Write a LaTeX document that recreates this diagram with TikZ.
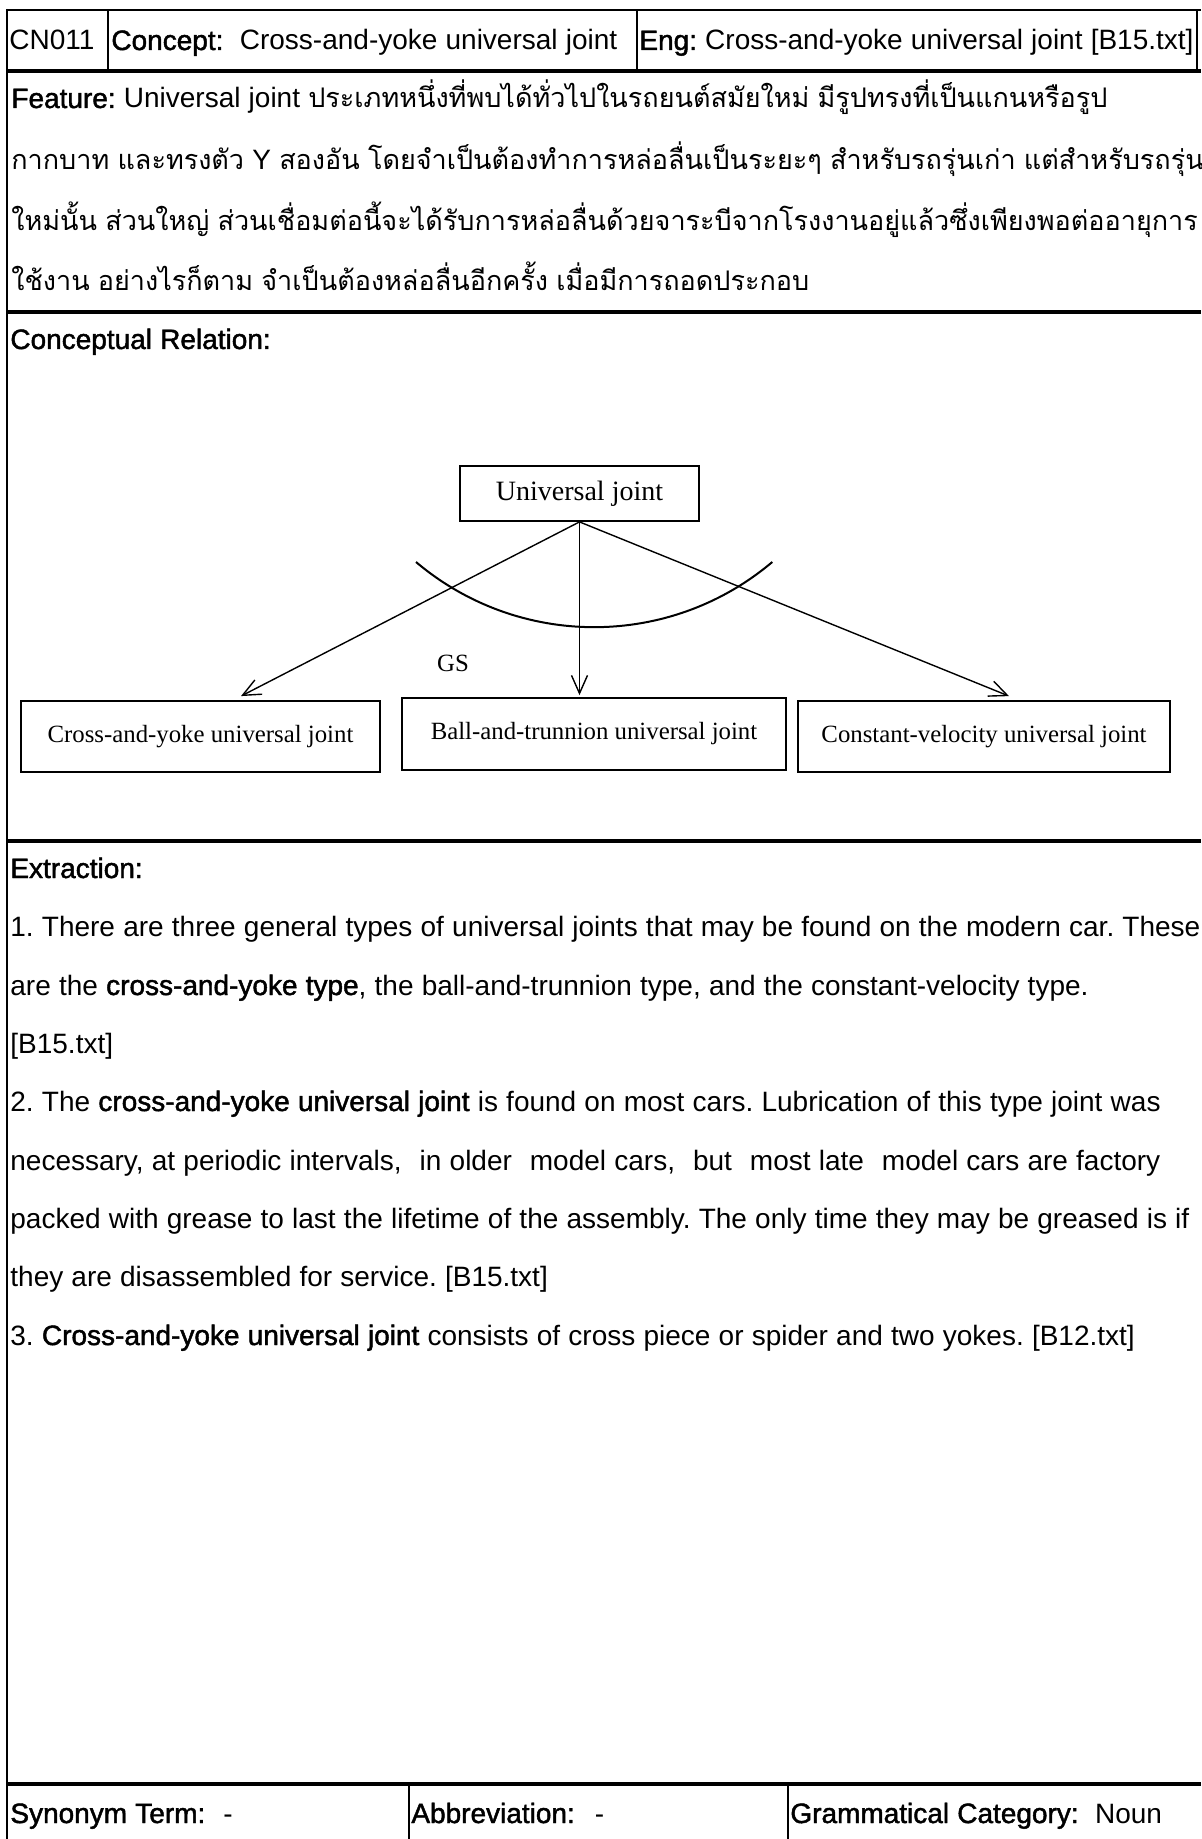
\documentclass[tikz,border=0pt]{standalone}
\usepackage{fontspec}
\setmainfont{Liberation Sans}
\newfontfamily\lblfont[FakeBold=1.6]{Liberation Sans}
\newfontfamily\thai[Script=Thai]{Loma}
\newfontfamily\serifjoint{Liberation Serif}
\usetikzlibrary{arrows.meta,calc}
\newcommand\lbl[1]{{\lblfont #1}}
\newcommand\thaitext[1]{{\thai\fontsize{13.5}{16}\selectfont #1}}
\newcommand\wide{\hspace{9pt}}
\newcommand\bodyfont{\fontsize{14}{16}\selectfont\spaceskip=4.1pt\relax}

\begin{document}
\frenchspacing
\begin{tikzpicture}[x=0.5pt,y=-0.5pt,
  txt/.style={anchor=base west,inner sep=0pt,font=\bodyfont},
  sectionrule/.style={line width=1.8pt},
  cellrule/.style={line width=1.3pt},
  conceptbox/.style={draw,line width=0.9pt,inner sep=0pt,
    font=\serifjoint\fontsize{12.4}{14}\selectfont},
  link/.style={line width=0.7pt,-{Straight Barb[length=9pt,width=8pt]}}]

% page
\fill[white] (0,0) rectangle (1201,1839);
\useasboundingbox (0,0) rectangle (1201,1839);

% table rules
\draw[cellrule] (7,10) -- (1201,10);
\draw[sectionrule] (7,71) -- (1201,71);
\draw[line width=1pt] (7,9) -- (7,1839);
\draw[cellrule] (108,10) -- (108,71);
\draw[cellrule] (637,10) -- (637,71);
\draw[cellrule] (1197,10) -- (1197,71);
\draw[sectionrule] (7,312) -- (1201,312);
\draw[sectionrule] (7,841) -- (1201,841);
\draw[sectionrule] (7,1784) -- (1201,1784);
\draw[cellrule] (409,1784) -- (409,1839);
\draw[cellrule] (788,1784) -- (788,1839);

% header row
\node[txt] (id) at (9,50) {CN011};
\node[txt] (concept) at (111,50) {\lbl{Concept:}\ \ Cross-and-yoke universal joint};
\node[txt] (eng) at (639,50) {\lbl{Eng:} Cross-and-yoke universal joint [B15.txt]};

% feature
\node[txt] (f1) at (11,108) {\lbl{Feature:} Universal joint \thaitext{ประเภทหนึ่งที่พบได้ทั่วไปในรถยนต์สมัยใหม่ มีรูปทรงที่เป็นแกนหรือรูป}};
\node[txt] (f2) at (11,170) {\thaitext{กากบาท และทรงตัว} Y \thaitext{สองอัน โดยจำเป็นต้องทำการหล่อลื่นเป็นระยะๆ สำหรับรถรุ่นเก่า แต่สำหรับรถรุ่น}};
\node[txt] (f3) at (11,231) {\thaitext{ใหม่นั้น ส่วนใหญ่ ส่วนเชื่อมต่อนี้จะได้รับการหล่อลื่นด้วยจาระบีจากโรงงานอยู่แล้วซึ่งเพียงพอต่ออายุการ}};
\node[txt] (f4) at (11,291) {\thaitext{ใช้งาน อย่างไรก็ตาม จำเป็นต้องหล่อลื่นอีกครั้ง เมื่อมีการถอดประกอบ}};

% conceptual relation
\node[txt] (cr) at (10,349) {\lbl{Conceptual Relation:}};

\node[conceptbox,minimum width=119.5pt,minimum height=27.5pt,
  font=\serifjoint\fontsize{14}{16}\selectfont] (uj) at (579.5,493.5) {Universal joint};
\node[conceptbox,minimum width=179.5pt,minimum height=35.5pt] (cy) at (200.5,736.5) {Cross-and-yoke universal joint};
\node[conceptbox,minimum width=192pt,minimum height=36pt] (bt) at (594,734) {Ball-and-trunnion universal joint};
\node[conceptbox,minimum width=186pt,minimum height=35.5pt] (cv) at (984,736.5) {Constant-velocity universal joint};

\coordinate (btIn) at ($(uj.south |- bt.north)+(0,-2)$);
\draw[link] (uj.south) -- ([xshift=20.25pt,yshift=2pt]cy.north);
\draw[link] (uj.south) -- (btIn);
\draw[link] (uj.south) -- ([xshift=12.5pt,yshift=2pt]cv.north);

\coordinate (arcL) at (416,562);
\draw[line width=1pt] (arcL) arc[start angle=229.8,end angle=310.2,radius=138pt];
\node[font=\serifjoint\fontsize{12.4}{14}\selectfont,inner sep=0pt] (gs) at (453,663) {GS};

% extraction
\node[txt] (ex) at (10,878) {\lbl{Extraction:}};
\node[txt] (e1) at (10,936) {1. There are three general types of universal joints that may be found on the modern car. These};
\node[txt] (e2) at (10,995) {are the \lbl{cross-and-yoke type}, the ball-and-trunnion type, and the constant-velocity type.};
\node[txt] (e3) at (10,1053) {[B15.txt]};
\node[txt] (e4) at (10,1111) {2. The \lbl{cross-and-yoke universal joint} is found on most cars. Lubrication of this type joint was};
\node[txt] (e5) at (10,1170) {necessary, at periodic intervals,\wide in older\wide model cars,\wide but\wide most late\wide model cars are factory};
\node[txt] (e6) at (10,1228) {packed with grease to last the lifetime of the assembly. The only time they may be greased is if};
\node[txt] (e7) at (10,1286) {they are disassembled for service. [B15.txt]};
\node[txt] (e8) at (10,1345) {3. \lbl{Cross-and-yoke universal joint} consists of cross piece or spider and two yokes. [B12.txt]};

% footer row
\node[txt] (syn) at (10,1823) {\lbl{Synonym Term:}\hspace{9pt}-};
\node[txt] (abbr) at (411,1823) {\lbl{Abbreviation:}\hspace{10pt}-};
\node[txt] (gram) at (790,1823) {\lbl{Grammatical Category:}\ \ Noun};
\end{tikzpicture}
\end{document}
